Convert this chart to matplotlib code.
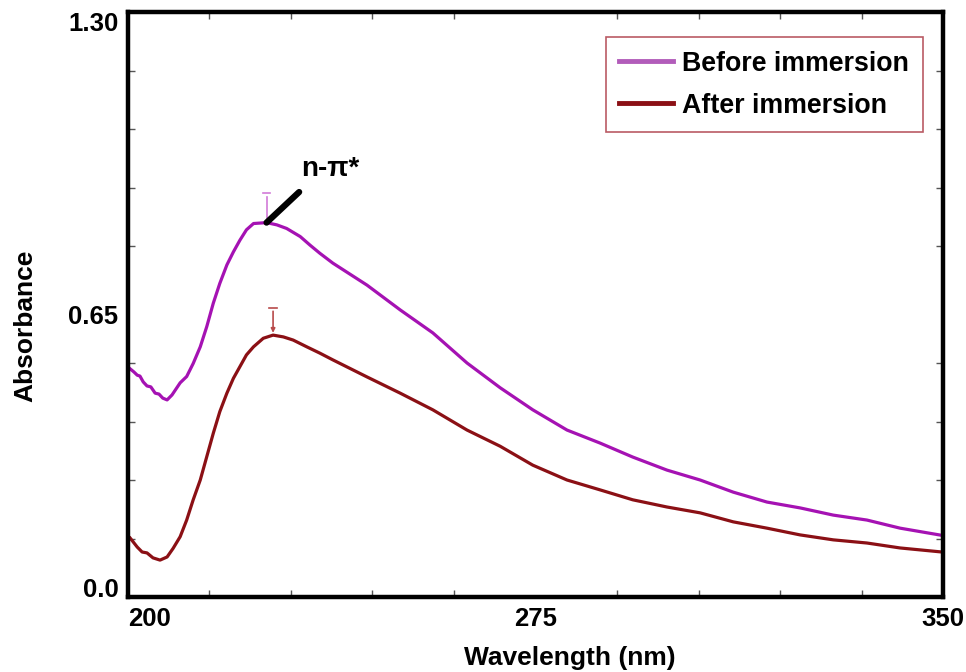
import matplotlib
matplotlib.use("Agg")
import matplotlib.pyplot as plt
from matplotlib.ticker import MultipleLocator, FixedLocator

plt.rcParams['font.family'] = ['Liberation Sans', 'DejaVu Sans']
plt.rcParams['font.weight'] = 'bold'

# UV-vis spectra, wavelength (nm) vs absorbance
wl_before = [200.4, 201.1, 201.7, 202.2, 202.8, 203.5, 204.2, 205.0, 205.7, 206.4,
             207.2, 208.1, 209.6, 210.8, 212.0, 213.3, 214.5, 215.7, 216.9, 218.2,
             219.4, 220.6, 221.8, 223.1, 225.5, 227.4, 229.2, 231.7, 233.5, 235.3,
             237.7, 244.0, 250.1, 256.1, 262.4, 268.5, 274.5, 280.8, 286.9, 292.9,
             299.2, 305.3, 311.4, 317.6, 323.7, 329.8, 336.0, 342.1, 349.8]
abs_before = [0.507, 0.500, 0.493, 0.491, 0.478, 0.469, 0.467, 0.453, 0.451, 0.442,
              0.438, 0.449, 0.476, 0.490, 0.519, 0.556, 0.601, 0.653, 0.697, 0.738,
              0.767, 0.793, 0.816, 0.830, 0.832, 0.827, 0.819, 0.801, 0.782, 0.764,
              0.742, 0.693, 0.638, 0.587, 0.520, 0.465, 0.416, 0.371, 0.342, 0.311,
              0.282, 0.260, 0.233, 0.211, 0.198, 0.182, 0.171, 0.153, 0.137]

wl_after = [200.4, 201.7, 202.6, 203.5, 204.6, 205.9, 207.2, 208.3, 209.6, 210.8,
            212.0, 213.3, 214.5, 215.7, 216.9, 218.2, 219.4, 220.6, 221.8, 223.1,
            224.9, 226.7, 228.6, 230.4, 232.9, 235.3, 237.7, 244.0, 250.1, 256.1,
            262.4, 268.5, 274.5, 280.8, 286.9, 292.9, 299.2, 305.3, 311.4, 317.6,
            323.7, 329.8, 336.0, 342.1, 349.8]
abs_after = [0.131, 0.111, 0.100, 0.098, 0.087, 0.082, 0.089, 0.108, 0.134, 0.171,
             0.216, 0.260, 0.312, 0.364, 0.412, 0.453, 0.486, 0.512, 0.538, 0.556,
             0.575, 0.582, 0.578, 0.571, 0.556, 0.542, 0.527, 0.489, 0.453, 0.416,
             0.371, 0.335, 0.293, 0.260, 0.238, 0.216, 0.200, 0.187, 0.167, 0.153,
             0.138, 0.127, 0.120, 0.109, 0.100]

purple = '#a512b3'
brown = '#8b1015'

fig = plt.figure(figsize=(9.66, 6.72), dpi=100)
ax = fig.add_axes([0.1325, 0.1116, 0.8437, 0.8705])

ax.plot(wl_before, abs_before, color=purple, lw=2.3, label='Before immersion')
ax.plot(wl_after, abs_after, color=brown, lw=2.3, label='After immersion')

ax.set_xlim(200, 350)
ax.set_ylim(0, 1.30)

# labelled positions carry no tick marks, the marks sit on a separate grid
ax.set_xticks([200, 275, 350])
ax.set_xticklabels(['200', '275', '350'])
ax.set_yticks([0.0, 0.65, 1.30])
ax.set_yticklabels(['0.0', '0.65', '1.30'])
ax.tick_params(which='major', length=0, labelsize=18.5, pad=7)
ax.xaxis.set_minor_locator(FixedLocator([215, 230, 245, 260, 275, 290, 305, 320, 335]))
ax.yaxis.set_minor_locator(MultipleLocator(0.13))
ax.tick_params(which='minor', direction='in', length=5, width=1, color='#555555',
               top=True, right=True)
for t in ax.get_xticklabels():
    t.set_fontweight('bold')
ax.get_xticklabels()[0].set_ha('left')
ylabs = ax.get_yticklabels()
ylabs[0].set_va('baseline')
ylabs[1].set_va('top')
ylabs[2].set_va('top')

for s in ax.spines.values():
    s.set_linewidth(3.2)

ax.set_xlabel('Wavelength (nm)', fontsize=19, fontweight='bold')
ax.xaxis.set_label_coords((570 - 128) / 815, (597 - 658) / 585)
ax.xaxis.label.set_va('center')
ax.set_ylabel('Absorbance', fontsize=19, fontweight='bold')
ax.yaxis.set_label_coords((25 - 128) / 815, (597 - 326) / 585)
ax.yaxis.label.set_va('center')

# peak pick markers
pk_b = (225.5, 0.832)
pk_a = (226.7, 0.582)
ax.plot([pk_b[0] - 0.7, pk_b[0] + 0.7], [pk_b[1] + 0.066] * 2, color='#d27ad8', lw=1.2)
ax.plot([pk_b[0], pk_b[0]], [pk_b[1] + 0.058, pk_b[1] + 0.01], color='#d27ad8', lw=1.2)
ax.plot([pk_a[0] - 0.7, pk_a[0] + 0.7], [pk_a[1] + 0.06] * 2, color='#b84a4a', lw=1.2)
ax.annotate('', xy=(pk_a[0], pk_a[1] + 0.005), xytext=(pk_a[0], pk_a[1] + 0.053),
            arrowprops=dict(arrowstyle='-|>', color='#b84a4a', lw=1.2,
                            mutation_scale=6, shrinkA=0, shrinkB=0))

# n-pi* label with leader line to the peak
ax.annotate('', xy=pk_b, xytext=(231.5, 0.900),
            arrowprops=dict(arrowstyle='-', color='black', lw=4.5, shrinkA=0, shrinkB=0))
ax.text(231.8, 0.951, 'n-π*', fontsize=20, fontweight='bold', ha='left', va='center')

leg = ax.legend(loc='upper left', bbox_to_anchor=(0.5865, 0.957), fontsize=19.3,
                frameon=True, fancybox=False, handlelength=2.0, handletextpad=0.35,
                labelspacing=0.6, borderpad=0.5, borderaxespad=0)
leg.get_frame().set_edgecolor('#a8323e')
leg.get_frame().set_linewidth(1.2)
for h in leg.get_lines():
    h.set_linewidth(3.5)
leg.get_lines()[0].set_color('#b25cba')
for t in leg.get_texts():
    t.set_fontweight('bold')

fig.savefig('out.png', dpi=100)
